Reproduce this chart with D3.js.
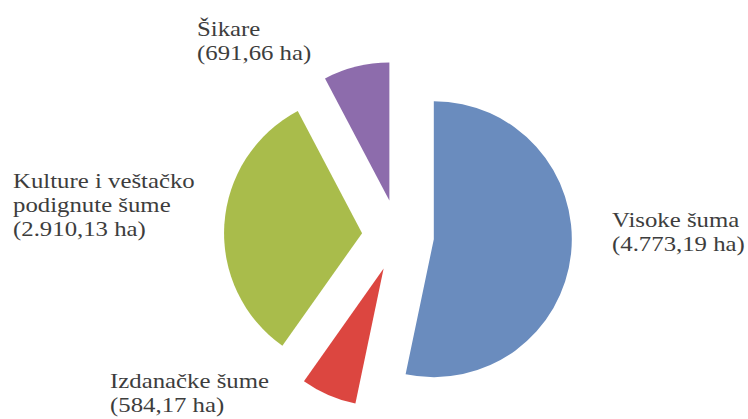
<!DOCTYPE html>
<html>
<head>
<meta charset="utf-8">
<script src="https://cdn.jsdelivr.net/npm/d3@7"></script>
<style>
  html, body { margin: 0; padding: 0; background: #fff; }
  svg { display: block; }
  text { font-family: "Liberation Serif", "Times New Roman", serif; fill: #3d3d3d; }
</style>
</head>
<body>
<script>
// Forest area by type (ha)
const categories = ["Visoke šuma", "Izdanačke šume", "Kulture i veštačko podignute šume", "Šikare"];
const values = [4773.19, 584.17, 2910.13, 691.66];
const valueLabels = ["(4.773,19 ha)", "(584,17 ha)", "(2.910,13 ha)", "(691,66 ha)"];
const labelLines = [
  ["Visoke šuma"],
  ["Izdanačke šume"],
  ["Kulture i veštačko", "podignute šume"],
  ["Šikare"]
];
const colors = ["#6a8cbe", "#dc4640", "#a9bc4b", "#8d6cac"];

const W = 748, H = 419;
const cx = 398, cy = 235.5, R = 138, explode = 36;

const svg = d3.select("body").append("svg").attr("width", W).attr("height", H);

const pie = d3.pie().sort(null).value(d => d)(values);
const arc = d3.arc().innerRadius(0).outerRadius(R);

const g = svg.append("g").attr("transform", `translate(${cx},${cy})`);
g.selectAll("path.slice")
  .data(pie)
  .join("path")
  .attr("class", "slice")
  .attr("fill", (d, i) => colors[i])
  .attr("transform", d => {
    const a = (d.startAngle + d.endAngle) / 2;
    return `translate(${explode * Math.sin(a)},${-explode * Math.cos(a)})`;
  })
  .attr("d", arc);

// Label blocks: name lines followed by the area in parentheses
const labelPos = [
  { x: 612, y: 227 },
  { x: 110, y: 388 },
  { x: 13, y: 188 },
  { x: 197, y: 36 }
];
const lineH = 24;
const stretch = 1.24;

categories.forEach((c, i) => {
  const lines = labelLines[i].concat([valueLabels[i]]);
  const t = svg.append("g")
    .attr("transform", `translate(${labelPos[i].x},${labelPos[i].y}) scale(${stretch},1)`);
  lines.forEach((ln, j) => {
    t.append("text")
      .attr("x", 0)
      .attr("y", j * lineH)
      .attr("font-size", 20)
      .text(ln);
  });
});
</script>
</body>
</html>
